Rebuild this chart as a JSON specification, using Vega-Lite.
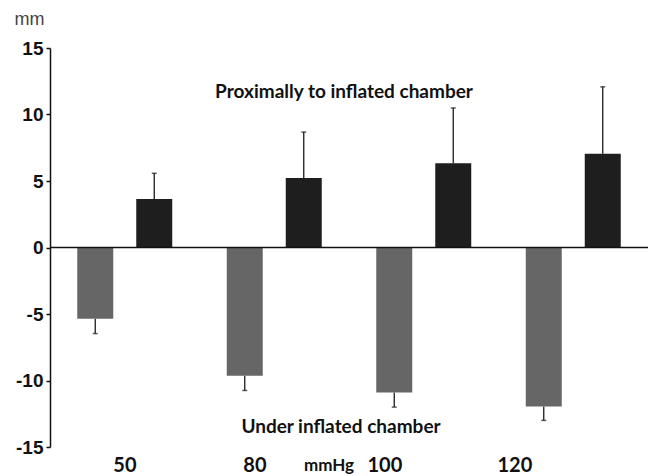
{
  "$schema": "https://vega.github.io/schema/vega-lite/v6.json",
  "width": 598,
  "height": 399,
  "autosize": {"type": "none"},
  "padding": {"left": 50, "top": 48, "right": 2, "bottom": 29},
  "background": "white",
  "config": {"view": {"stroke": null}},
  "layer": [
    {
      "data": {
        "values": [
          {"pressure": "50", "location": "Under", "mean": -5.36, "err": -6.47},
          {"pressure": "50", "location": "Proximal", "mean": 3.65, "err": 5.58},
          {"pressure": "80", "location": "Under", "mean": -9.64, "err": -10.75},
          {"pressure": "80", "location": "Proximal", "mean": 5.23, "err": 8.68},
          {"pressure": "100", "location": "Under", "mean": -10.9, "err": -12.0},
          {"pressure": "100", "location": "Proximal", "mean": 6.34, "err": 10.49},
          {"pressure": "120", "location": "Under", "mean": -11.95, "err": -13.0},
          {"pressure": "120", "location": "Proximal", "mean": 7.04, "err": 12.08}
        ]
      },
      "encoding": {
        "x": {
          "field": "pressure",
          "type": "ordinal",
          "sort": ["50", "80", "100", "120"],
          "scale": {"paddingInner": 0, "paddingOuter": 0},
          "axis": null
        },
        "xOffset": {
          "field": "location",
          "type": "nominal",
          "sort": ["Under", "Proximal"],
          "scale": {"paddingInner": 0.39, "paddingOuter": 0.462}
        }
      },
      "layer": [
        {
          "mark": {"type": "rule", "color": "#1a1a1a", "strokeWidth": 1.3},
          "encoding": {
            "y": {"field": "mean", "type": "quantitative"},
            "y2": {"field": "err"}
          }
        },
        {
          "mark": {"type": "tick", "color": "#1a1a1a", "size": 5, "thickness": 1.5},
          "encoding": {
            "y": {"field": "err", "type": "quantitative"}
          }
        },
        {
          "mark": {"type": "bar"},
          "encoding": {
            "y": {
              "field": "mean",
              "type": "quantitative",
              "scale": {"domain": [-15, 15], "nice": false},
              "axis": {
                "values": [-15, -10, -5, 0, 5, 10, 15],
                "labelExpr": "datum.value",
                "grid": false,
                "domainColor": "#111",
                "domainWidth": 1.5,
                "tickColor": "#111",
                "tickWidth": 1.5,
                "tickSize": 4,
                "labelPadding": 3,
                "labelFont": "Liberation Sans",
                "labelFontWeight": "bold",
                "labelFontSize": 19,
                "labelColor": "#111",
                "title": "mm",
                "titleAngle": 0,
                "titleAlign": "left",
                "titleBaseline": "middle",
                "titleX": -36,
                "titleY": -29,
                "titleFont": "Liberation Sans",
                "titleFontWeight": "normal",
                "titleFontSize": 18,
                "titleColor": "#444"
              }
            },
            "color": {
              "field": "location",
              "type": "nominal",
              "scale": {"domain": ["Under", "Proximal"], "range": ["#666666", "#1e1e1e"]},
              "legend": null
            }
          }
        }
      ]
    },
    {
      "data": {"values": [{"level": 0}]},
      "mark": {"type": "rule", "color": "#111", "strokeWidth": 1.5},
      "encoding": {"y": {"field": "level", "type": "quantitative"}}
    },
    {
      "data": {"values": [{"note": "Proximally to inflated chamber", "at": 11.7}]},
      "mark": {"type": "text", "font": "Lato", "fontWeight": "bold", "fontSize": 19, "color": "#111", "baseline": "middle", "dx": -5},
      "encoding": {
        "y": {"field": "at", "type": "quantitative"},
        "text": {"field": "note"}
      }
    },
    {
      "data": {"values": [{"note": "Under inflated  chamber", "at": -13.5}]},
      "mark": {"type": "text", "font": "Lato", "fontWeight": "bold", "fontSize": 19, "color": "#111", "baseline": "middle", "dx": -8},
      "encoding": {
        "y": {"field": "at", "type": "quantitative"},
        "text": {"field": "note"}
      }
    },
    {
      "data": {"values": [{"note": "mmHg", "at": -16.4}]},
      "mark": {"type": "text", "font": "Lato", "fontWeight": "bold", "fontSize": 17, "color": "#111", "baseline": "middle", "dx": -20},
      "encoding": {
        "y": {"field": "at", "type": "quantitative"},
        "text": {"field": "note"}
      }
    },
    {
      "data": {
        "values": [
          {"label": "50", "at": -16.4},
          {"label": "80", "at": -16.4},
          {"label": "100", "at": -16.4},
          {"label": "120", "at": -16.4}
        ]
      },
      "mark": {"type": "text", "font": "Lato", "fontWeight": "bold", "fontSize": 20, "color": "#111", "baseline": "middle"},
      "encoding": {
        "x": {
          "field": "label",
          "type": "ordinal",
          "sort": ["50", "80", "100", "120"],
          "scale": {"type": "point", "padding": 0.8, "align": 0.36},
          "axis": null
        },
        "y": {"field": "at", "type": "quantitative"},
        "text": {"field": "label"}
      }
    }
  ],
  "resolve": {"scale": {"x": "independent"}}
}
